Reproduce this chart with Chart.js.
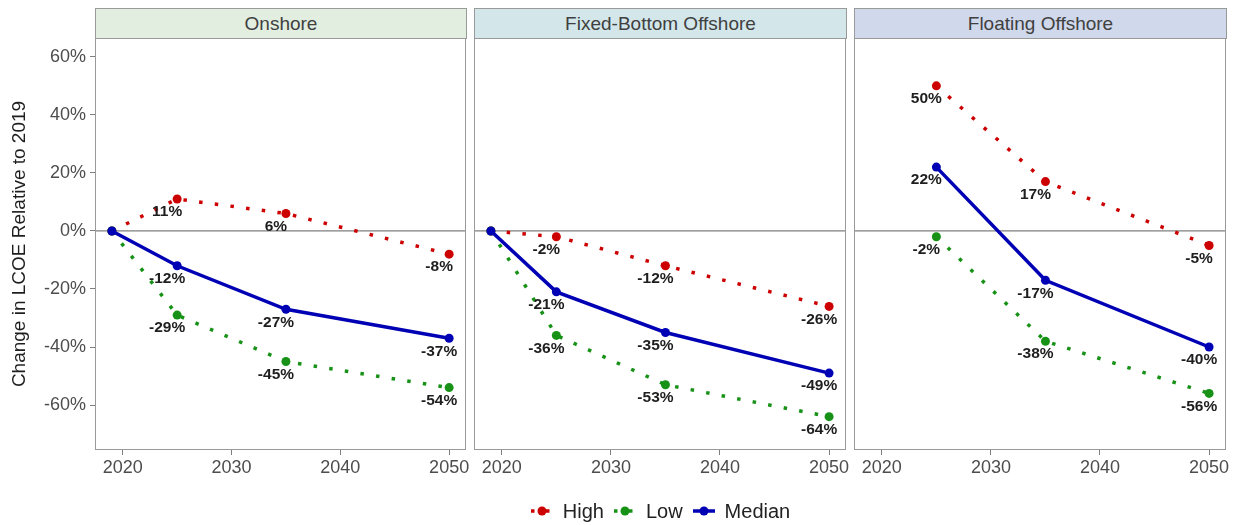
<!DOCTYPE html>
<html>
<head>
<meta charset="utf-8">
<script src="https://cdn.jsdelivr.net/npm/chart.js@4.4.1/dist/chart.umd.min.js"></script>
<style>
    body { margin: 0; background: #fff; font-family: "Liberation Sans", Arial, sans-serif; }
    #page { position: relative; width: 1237px; height: 525px; overflow: hidden; }
    .panel-canvas { position: absolute; top: 0; height: 525px; }
    .strip {
        position: absolute; top: 8px; height: 29px; line-height: 29px;
        border: 1px solid #9a9a9a; box-sizing: content-box;
        text-align: center; font-size: 19px; color: #404040;
    }
    #legend {
        position: absolute; top: 498px; left: 95px; width: 1131px; height: 26px;
        display: flex; justify-content: center; align-items: center; gap: 10px;
        font-size: 20px; color: #222;
    }
    .item { display: flex; align-items: center; gap: 10px; }
</style>
</head>
<body>
<div id="page">
    <div class="strip" style="left:95px; width:370px; background:#e2eee0;">Onshore</div>
    <div class="strip" style="left:474px; width:371px; background:#d3e7eb;">Fixed-Bottom Offshore</div>
    <div class="strip" style="left:854px; width:371px; background:#d0d8ec;">Floating Offshore</div>

    <canvas id="c-onshore" class="panel-canvas" style="left:0; width:476px;" width="476" height="525"></canvas>
    <canvas id="c-fixed" class="panel-canvas" style="left:464px; width:392px;" width="392" height="525"></canvas>
    <canvas id="c-floating" class="panel-canvas" style="left:844px; width:392px;" width="392" height="525"></canvas>

    <div id="legend">
        <div class="item">
            <svg width="22" height="12"><line x1="0" y1="6" x2="22" y2="6" stroke="#cc0000" stroke-width="3.5" stroke-dasharray="3.5 4"/><circle cx="11" cy="6" r="4.5" fill="#cc0000"/></svg>
            <span>High</span>
        </div>
        <div class="item">
            <svg width="22" height="12"><line x1="0" y1="6" x2="22" y2="6" stroke="#179217" stroke-width="3.5" stroke-dasharray="3.5 4"/><circle cx="11" cy="6" r="4.5" fill="#179217"/></svg>
            <span>Low</span>
        </div>
        <div class="item">
            <svg width="22" height="12"><line x1="0" y1="6" x2="22" y2="6" stroke="#0000b4" stroke-width="3.5"/><circle cx="11" cy="6" r="4.5" fill="#0000b4"/></svg>
            <span>Median</span>
        </div>
    </div>
</div>

<script>
// data
const yearsFull = [2019, 2025, 2035, 2050];
const yearsFloating = [2025, 2035, 2050];

const onshoreHigh = [0, 11, 6, -8];
const onshoreLow = [0, -29, -45, -54];
const onshoreMedian = [0, -12, -27, -37];

const fixedHigh = [0, -2, -12, -26];
const fixedLow = [0, -36, -53, -64];
const fixedMedian = [0, -21, -35, -49];

const floatingHigh = [50, 17, -5];
const floatingLow = [-2, -38, -56];
const floatingMedian = [22, -17, -40];

const xTicks = [2020, 2030, 2040, 2050];
const yTicks = [-60, -40, -20, 0, 20, 40, 60];

const RED = '#cc0000';
const GREEN = '#179217';
const BLUE = '#0000b4';

Chart.defaults.font.family = '"Liberation Sans", Arial, sans-serif';
Chart.defaults.animation = false;

const panelDecor = {
    id: 'panelDecor',
    beforeDatasetsDraw(chart) {
        const { ctx, chartArea: a, scales } = chart;
        const y0 = scales.y.getPixelForValue(0);
        ctx.save();
        ctx.strokeStyle = '#7f7f7f';
        ctx.lineWidth = 1.2;
        ctx.beginPath();
        ctx.moveTo(a.left, y0);
        ctx.lineTo(a.right, y0);
        ctx.stroke();
        ctx.restore();
    },
    afterDraw(chart) {
        const { ctx, chartArea: a } = chart;
        ctx.save();
        ctx.strokeStyle = '#9a9a9a';
        ctx.lineWidth = 1;
        ctx.strokeRect(a.left + 0.5, a.top + 0.5, a.right - a.left - 1, a.bottom - a.top - 1);
        ctx.restore();
    }
};

const pointLabels = {
    id: 'pointLabels',
    afterDatasetsDraw(chart) {
        const { ctx } = chart;
        ctx.save();
        ctx.font = 'bold 15.5px "Liberation Sans", Arial, sans-serif';
        ctx.fillStyle = '#1e1e1e';
        ctx.textAlign = 'center';
        ctx.textBaseline = 'middle';
        chart.data.datasets.forEach((ds, i) => {
            const meta = chart.getDatasetMeta(i);
            meta.data.forEach((pt, j) => {
                if (ds.data[j].x === 2019) return;
                ctx.fillText(ds.data[j].y + '%', pt.x - 10, pt.y + 13);
            });
        });
        ctx.restore();
    }
};

function series(label, years, values, color, dotted) {
    return {
        label: label,
        data: years.map((yr, i) => ({ x: yr, y: values[i] })),
        borderColor: color,
        backgroundColor: color,
        borderWidth: 3.5,
        borderDash: dotted ? [3.5, 12.3] : [],
        pointRadius: 4.5,
        pointBorderWidth: 0,
        pointBackgroundColor: color,
        tension: 0
    };
}

function makePanel(id, years, high, low, median, showY) {
    const tickColor = '#4d4d4d';
    new Chart(document.getElementById(id), {
        type: 'line',
        data: {
            datasets: [
                series('Median', years, median, BLUE, false),
                series('Low', years, low, GREEN, true),
                series('High', years, high, RED, true)
            ]
        },
        options: {
            responsive: false,
            layout: { padding: { top: 38, left: showY ? 0 : 10, right: 10, bottom: 0 } },
            plugins: { legend: { display: false }, tooltip: { enabled: false } },
            scales: {
                x: {
                    type: 'linear',
                    min: 2017.45,
                    max: 2051.55,
                    afterBuildTicks: s => { s.ticks = xTicks.map(v => ({ value: v })); },
                    afterFit: s => { s.height = 75; },
                    grid: { drawOnChartArea: false, drawTicks: true, tickLength: 5, color: '#7f7f7f' },
                    border: { display: false },
                    ticks: { color: tickColor, font: { size: 18 }, padding: 2, maxRotation: 0, callback: v => String(v) }
                },
                y: {
                    display: showY,
                    min: -75.5,
                    max: 66.5,
                    afterBuildTicks: s => { s.ticks = yTicks.map(v => ({ value: v })); },
                    afterFit: s => { s.width = showY ? 95 : 0; },
                    grid: { drawOnChartArea: false, drawTicks: true, tickLength: 5, color: '#7f7f7f' },
                    border: { display: false },
                    ticks: { color: tickColor, font: { size: 18 }, padding: 4, callback: v => v + '%' },
                    title: {
                        display: true,
                        text: 'Change in LCOE Relative to 2019',
                        color: '#1e1e1e',
                        font: { size: 19 },
                        padding: { top: 8, bottom: 0 }
                    }
                }
            }
        },
        plugins: [panelDecor, pointLabels]
    });
}

makePanel('c-onshore', yearsFull, onshoreHigh, onshoreLow, onshoreMedian, true);
makePanel('c-fixed', yearsFull, fixedHigh, fixedLow, fixedMedian, false);
makePanel('c-floating', yearsFloating, floatingHigh, floatingLow, floatingMedian, false);
</script>
</body>
</html>
